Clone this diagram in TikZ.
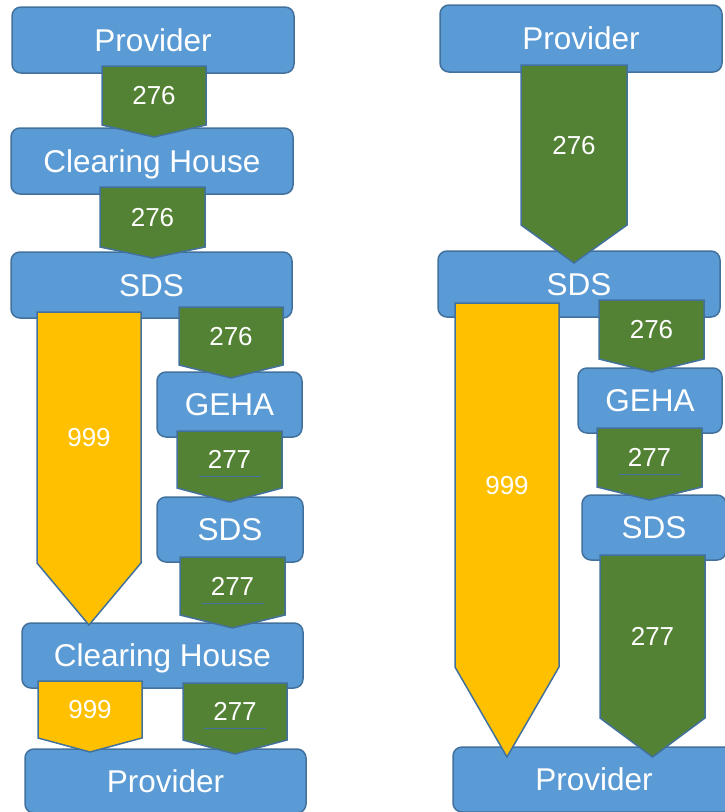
\documentclass[tikz,border=0pt]{standalone}
\usepackage{fontspec}
\setmainfont{Liberation Sans}
\definecolor{boxblue}{RGB}{91,155,213}
\definecolor{edgeblue}{RGB}{65,113,156}
\definecolor{flowgreen}{RGB}{84,130,53}
\definecolor{flowyellow}{RGB}{255,192,0}
\tikzset{
  box/.style={draw=edgeblue, fill=boxblue, line width=1.5pt, rounded corners=9pt,
    inner sep=0pt, text=white, font=\fontsize{31.5}{36}\selectfont,
    text height=22.5pt, text depth=0pt},
  flow/.style={draw=edgeblue, line width=1.5pt, line join=miter},
  num/.style={text=white, inner sep=0pt, font=\fontsize{26}{30}\selectfont,
    text height=18.6pt, text depth=0pt},
  uline/.style={draw=edgeblue, line width=0.8pt}
}
% name, colour, left, right, top, shoulder, tip, label
\newcommand{\flowarrow}[8]{%
  \draw[flow, fill=#2] (#3,#5) -- (#4,#5) -- (#4,#6) -- ({(#3+#4)/2},#7) -- (#3,#6) -- cycle;
  \node[num] (#1) at ({(#3+#4)/2},{(#5+#6)/2}) {#8};
}
\begin{document}
\begin{tikzpicture}[x=1pt,y=-1pt]
    \useasboundingbox (0,0) rectangle (724,812);
    %Left
    \node[box, minimum width=282pt, minimum height=66pt] (prov1) at (153,40)    {Provider};
    \node[box, minimum width=282pt, minimum height=66pt] (clr1)  at (152,161)   {Clearing House};
    \node[box, minimum width=281pt, minimum height=66pt] (sds1)  at (151.5,285) {SDS};
    \node[box, minimum width=145pt, minimum height=65pt] (geha1) at (229.5,404.5) {GEHA};
    \node[box, minimum width=146pt, minimum height=65pt] (sds2)  at (230,529.5) {SDS};
    \node[box, minimum width=281pt, minimum height=65pt] (clr2)  at (162.5,655.5) {Clearing House};
    \node[box, minimum width=281pt, minimum height=64pt] (prov2) at (165.5,781) {Provider};
    %Right
    \node[box, minimum width=282pt, minimum height=67pt] (prov3) at (581,38.5)  {Provider};
    \node[box, minimum width=282pt, minimum height=66pt] (sds3)  at (579,284)   {SDS};
    \node[box, minimum width=144pt, minimum height=65pt] (geha2) at (650,400.5) {GEHA};
    \node[box, minimum width=144pt, minimum height=65pt] (sds4)  at (654,527.5) {SDS};
    \node[box, minimum width=282pt, minimum height=65pt] (prov4) at (594,779.5) {Provider};
    %Flows left
    \flowarrow{a1}{flowgreen}{102}{206}{66}{125}{137}{276}
    \flowarrow{a2}{flowgreen}{100}{205}{187}{247}{258}{276}
    \flowarrow{y1}{flowyellow}{37}{141}{312}{563}{625}{999}
    \flowarrow{a3}{flowgreen}{179}{283}{307}{365}{378}{276}
    \flowarrow{a4}{flowgreen}{177}{282}{431}{488}{502}{277}
    \flowarrow{a5}{flowgreen}{180}{285}{557}{615}{628}{277}
    \flowarrow{y2}{flowyellow}{38}{142}{681}{738}{752}{999}
    \flowarrow{a6}{flowgreen}{183}{287}{683}{740}{754}{277}
    %Flows right
    \flowarrow{b1}{flowgreen}{521}{627}{65}{225}{263}{276}
    \flowarrow{y3}{flowyellow}{455}{559}{303}{667}{757}{999}
    \flowarrow{b2}{flowgreen}{599}{704}{300}{359}{372}{276}
    \flowarrow{b3}{flowgreen}{597}{702}{428}{487}{500}{277}
    \flowarrow{b4}{flowgreen}{600}{705}{555}{718}{757}{277}
    \draw[uline] (a4.center) ++(-31,17) -- ++(62,0);
    \draw[uline] (a5.center) ++(-31,17) -- ++(62,0);
    \draw[uline] (a6.center) ++(-31,17) -- ++(62,0);
    \draw[uline] (b3.center) ++(-31,17) -- ++(62,0);
\end{tikzpicture}
\end{document}
